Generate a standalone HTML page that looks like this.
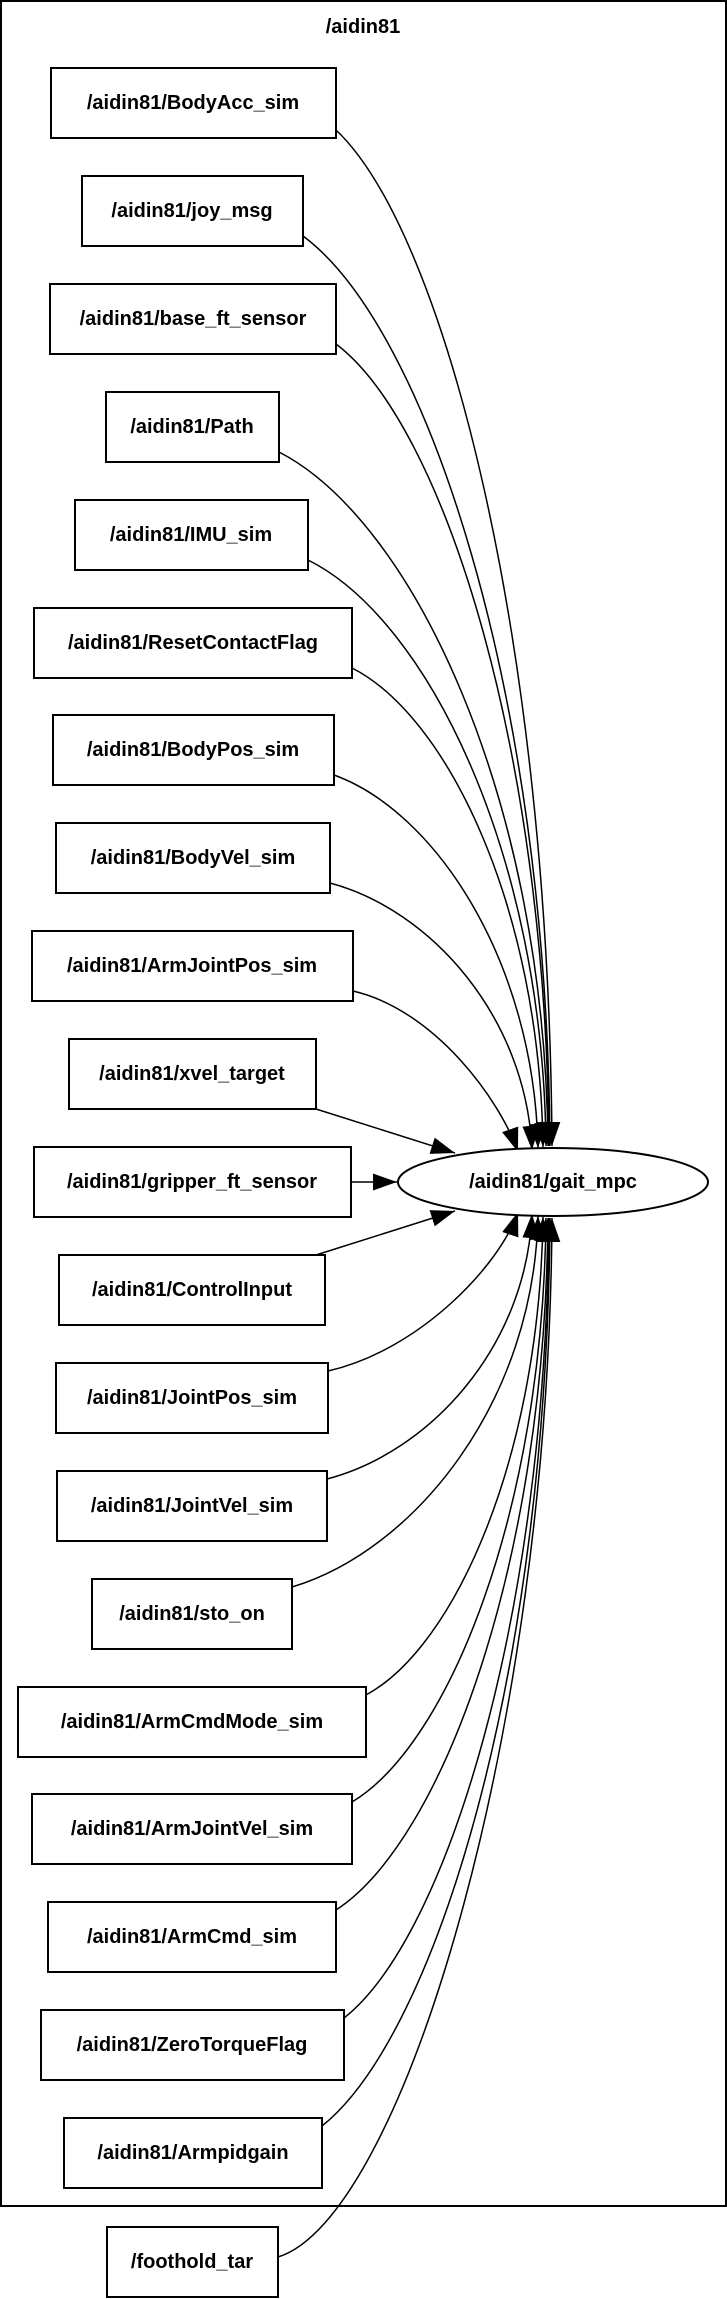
<!DOCTYPE html>
<html><head><meta charset="utf-8"><style>
html,body{margin:0;padding:0;background:#fff;}
svg{display:block;}
text{font-family:"Liberation Sans",sans-serif;font-weight:bold;font-size:20px;fill:#000;text-anchor:middle;dominant-baseline:central;}
</style></head><body>
<svg width="727" height="2299" viewBox="0 0 727 2299" xmlns="http://www.w3.org/2000/svg">
<defs>
<marker id="a" markerUnits="userSpaceOnUse" markerWidth="24" markerHeight="17" refX="24" refY="8.5" orient="auto">
<path d="M0,0 L24,8.5 L0,17 z" fill="#000"/>
</marker>
</defs>
<rect x="1" y="1" width="725" height="2205" fill="none" stroke="#000" stroke-width="2"/>
<text x="363" y="27">/aidin81</text>

<g fill="none" stroke="#000" stroke-width="1.5" marker-end="url(#a)">
<path d="M336,130 C444,232 549,638 552,1146"/>
<path d="M303,236 C426,327 547,691 550,1146"/>
<path d="M336,344 C442,424 546,745 549,1146"/>
<path d="M279,452 C413,521 545,799 548,1146"/>
<path d="M308,560 C427,619 543,853 546,1146"/>
<path d="M352,668 C447,716 540,907 543,1147"/>
<path d="M334,775 C436,812 534,962 538,1148"/>
<path d="M330,883 C431,910 526,1017 532,1150"/>
<path d="M353,991 C435,1010 500,1100 518,1152"/>
<path d="M316,1109 L455,1153"/>
<path d="M351,1182 L397,1182"/>
<path d="M316,1255 L455,1211"/>
<path d="M328,1371 C420,1350 500,1265 518,1212"/>
<path d="M327,1479 C430,1452 526,1347 532,1214"/>
<path d="M292,1587 C415,1550 534,1402 538,1216"/>
<path d="M366,1695 C455,1647 540,1456 543,1217"/>
<path d="M352,1802 C449,1744 543,1510 546,1218"/>
<path d="M336,1910 C442,1841 545,1564 548,1218"/>
<path d="M344,2018 C446,1938 546,1618 549,1218"/>
<path d="M322,2126 C436,2035 547,1672 550,1218"/>
<path d="M278,2257 C400,2220 549,1740 552,1218"/>
</g>

<g fill="#fff" stroke="#000" stroke-width="2">
<rect x="51" y="68" width="285" height="70"/>
<rect x="82" y="176" width="221" height="70"/>
<rect x="50" y="284" width="286" height="70"/>
<rect x="106" y="392" width="173" height="70"/>
<rect x="75" y="500" width="233" height="70"/>
<rect x="34" y="608" width="318" height="70"/>
<rect x="53" y="715" width="281" height="70"/>
<rect x="56" y="823" width="274" height="70"/>
<rect x="32" y="931" width="321" height="70"/>
<rect x="69" y="1039" width="247" height="70"/>
<rect x="34" y="1147" width="317" height="70"/>
<rect x="59" y="1255" width="266" height="70"/>
<rect x="56" y="1363" width="272" height="70"/>
<rect x="57" y="1471" width="270" height="70"/>
<rect x="92" y="1579" width="200" height="70"/>
<rect x="18" y="1687" width="348" height="70"/>
<rect x="32" y="1794" width="320" height="70"/>
<rect x="48" y="1902" width="288" height="70"/>
<rect x="41" y="2010" width="303" height="70"/>
<rect x="64" y="2118" width="258" height="70"/>
<rect x="107" y="2227" width="171" height="70"/>
<ellipse cx="553" cy="1182" rx="155" ry="34"/>
</g>

<text x="193" y="103">/aidin81/BodyAcc_sim</text>
<text x="192" y="211">/aidin81/joy_msg</text>
<text x="193" y="319">/aidin81/base_ft_sensor</text>
<text x="192" y="427">/aidin81/Path</text>
<text x="191" y="535">/aidin81/IMU_sim</text>
<text x="193" y="643">/aidin81/ResetContactFlag</text>
<text x="193" y="750">/aidin81/BodyPos_sim</text>
<text x="193" y="858">/aidin81/BodyVel_sim</text>
<text x="192" y="966">/aidin81/ArmJointPos_sim</text>
<text x="192" y="1074">/aidin81/xvel_target</text>
<text x="192" y="1182">/aidin81/gripper_ft_sensor</text>
<text x="192" y="1290">/aidin81/ControlInput</text>
<text x="192" y="1398">/aidin81/JointPos_sim</text>
<text x="192" y="1506">/aidin81/JointVel_sim</text>
<text x="192" y="1614">/aidin81/sto_on</text>
<text x="192" y="1722">/aidin81/ArmCmdMode_sim</text>
<text x="192" y="1829">/aidin81/ArmJointVel_sim</text>
<text x="192" y="1937">/aidin81/ArmCmd_sim</text>
<text x="192" y="2045">/aidin81/ZeroTorqueFlag</text>
<text x="193" y="2153">/aidin81/Armpidgain</text>
<text x="192" y="2262">/foothold_tar</text>
<text x="553" y="1182">/aidin81/gait_mpc</text>
</svg>
</body></html>
